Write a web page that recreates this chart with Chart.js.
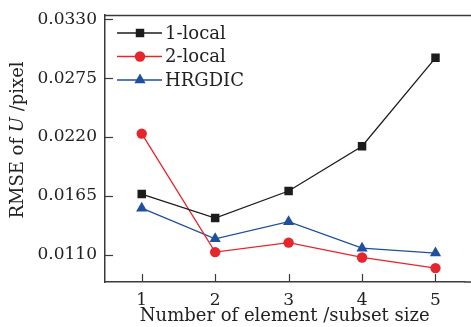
<!DOCTYPE html>
<html>
<head>
<meta charset="utf-8">
<script src="https://cdn.jsdelivr.net/npm/chart.js@4/dist/chart.umd.min.js"></script>
<style>
  html, body { margin: 0; padding: 0; background: #fff; }
  #wrap { width: 471px; height: 327px; }
</style>
</head>
<body>
<div id="wrap"><canvas id="rmse-chart"></canvas></div>
<script>
// Number of element / subset size
const sizes = [1, 2, 3, 4, 5];
const local1 = [0.01667, 0.01443, 0.01696, 0.02114, 0.0294];
const local2 = [0.02232, 0.01125, 0.01214, 0.01075, 0.00976];
const hrgdic = [0.01536, 0.01249, 0.01409, 0.01162, 0.01116];
const yTicks = [0.0110, 0.0165, 0.0220, 0.0275, 0.0330];

const FONT = '"DejaVu Serif", serif';
const AXIS = '#3a3a3a';

// inward ticks, top border, legend inside the plot and y title with italic U
const framePlugin = {
  id: 'frame',
  afterDraw(chart) {
    const { ctx, chartArea: a, scales: { x, y } } = chart;
    ctx.save();
    ctx.strokeStyle = AXIS;
    ctx.lineWidth = 1.5;

    ctx.beginPath();
    ctx.moveTo(a.left, a.top + 0.5);
    ctx.lineTo(chart.width, a.top + 0.5);
    ctx.moveTo(a.right, a.bottom);
    ctx.lineTo(chart.width, a.bottom);
    ctx.stroke();

    ctx.lineWidth = 1.2;
    yTicks.forEach(v => {
      const py = Math.round(y.getPixelForValue(v)) + 0.5;
      ctx.beginPath();
      ctx.moveTo(a.left, py);
      ctx.lineTo(a.left + 8, py);
      ctx.stroke();
    });
    sizes.forEach(v => {
      const px = Math.round(x.getPixelForValue(v)) + 0.5;
      ctx.beginPath();
      ctx.moveTo(px, a.bottom);
      ctx.lineTo(px, a.bottom - 8);
      ctx.stroke();
    });

    // legend
    chart.data.datasets.forEach((ds, i) => {
      const ly = 33 + i * 23.5;
      ctx.strokeStyle = ds.borderColor;
      ctx.lineWidth = 1.3;
      ctx.beginPath();
      ctx.moveTo(117, ly);
      ctx.lineTo(162, ly);
      ctx.stroke();
      ctx.fillStyle = ds.backgroundColor;
      Chart.helpers.drawPoint(ctx, {
        pointStyle: ds.pointStyle, radius: ds.pointRadius, borderWidth: 0
      }, 140, ly);
      ctx.fillStyle = '#222';
      ctx.font = '18px ' + FONT;
      ctx.textBaseline = 'middle';
      ctx.textAlign = 'left';
      ctx.fillText(ds.label, 165, ly + 1);
    });

    // y axis title
    ctx.translate(18, 140);
    ctx.rotate(-Math.PI / 2);
    ctx.fillStyle = '#222';
    ctx.textBaseline = 'middle';
    const parts = [['RMSE of ', '18px '], ['U', 'italic 18px '], [' /pixel', '18px ']];
    let total = 0;
    parts.forEach(p => { ctx.font = p[1] + FONT; total += ctx.measureText(p[0]).width; });
    let cx = -total / 2;
    parts.forEach(p => {
      ctx.font = p[1] + FONT;
      ctx.textAlign = 'left';
      ctx.fillText(p[0], cx, 0);
      cx += ctx.measureText(p[0]).width;
    });
    ctx.restore();
  }
};

new Chart(document.getElementById('rmse-chart'), {
  type: 'line',
  data: {
    datasets: [
      {
        label: '1-local',
        data: sizes.map((s, i) => ({ x: s, y: local1[i] })),
        borderColor: '#1c1c1c', backgroundColor: '#1c1c1c',
        pointStyle: 'rect', pointRadius: 6
      },
      {
        label: '2-local',
        data: sizes.map((s, i) => ({ x: s, y: local2[i] })),
        borderColor: '#e5262c', backgroundColor: '#e5262c',
        pointStyle: 'circle', pointRadius: 5.2
      },
      {
        label: 'HRGDIC',
        data: sizes.map((s, i) => ({ x: s, y: hrgdic[i] })),
        borderColor: '#1f4f9f', backgroundColor: '#1f4f9f',
        pointStyle: 'triangle', pointRadius: 6.5
      }
    ]
  },
  options: {
    responsive: true,
    maintainAspectRatio: false,
    animation: false,
    layout: { padding: { top: 15, right: 0, left: 0, bottom: 0 } },
    elements: {
      line: { borderWidth: 1.3, tension: 0 },
      point: { borderWidth: 0, hoverRadius: 6 }
    },
    plugins: {
      legend: { display: false },
      tooltip: { enabled: false }
    },
    scales: {
      x: {
        type: 'linear',
        min: 0.5, max: 5.395,
        afterBuildTicks: axis => { axis.ticks = sizes.map(v => ({ value: v })); },
        afterFit: axis => {
          axis.height = 45;
          axis.paddingLeft = 0;
          axis.paddingRight = 0;
        },
        grid: { display: false },
        border: { display: true, color: AXIS, width: 1.5 },
        ticks: {
          color: '#222', padding: 0,
          font: { family: FONT, size: 17 }
        },
        title: {
          display: true, text: 'Number of element /subset size',
          color: '#222', padding: 0,
          font: { family: FONT, size: 18 }
        }
      },
      y: {
        type: 'linear',
        min: 0.00846, max: 0.03340,
        afterBuildTicks: axis => { axis.ticks = yTicks.map(v => ({ value: v })); },
        afterFit: axis => {
          axis.width = 105;
          axis.paddingTop = 0;
          axis.paddingBottom = 0;
        },
        grid: { display: false },
        border: { display: true, color: AXIS, width: 1.5 },
        ticks: {
          color: '#222', padding: 0,
          font: { family: FONT, size: 17 },
          callback: v => v.toFixed(4)
        }
      }
    }
  },
  plugins: [framePlugin]
});
</script>
</body>
</html>
